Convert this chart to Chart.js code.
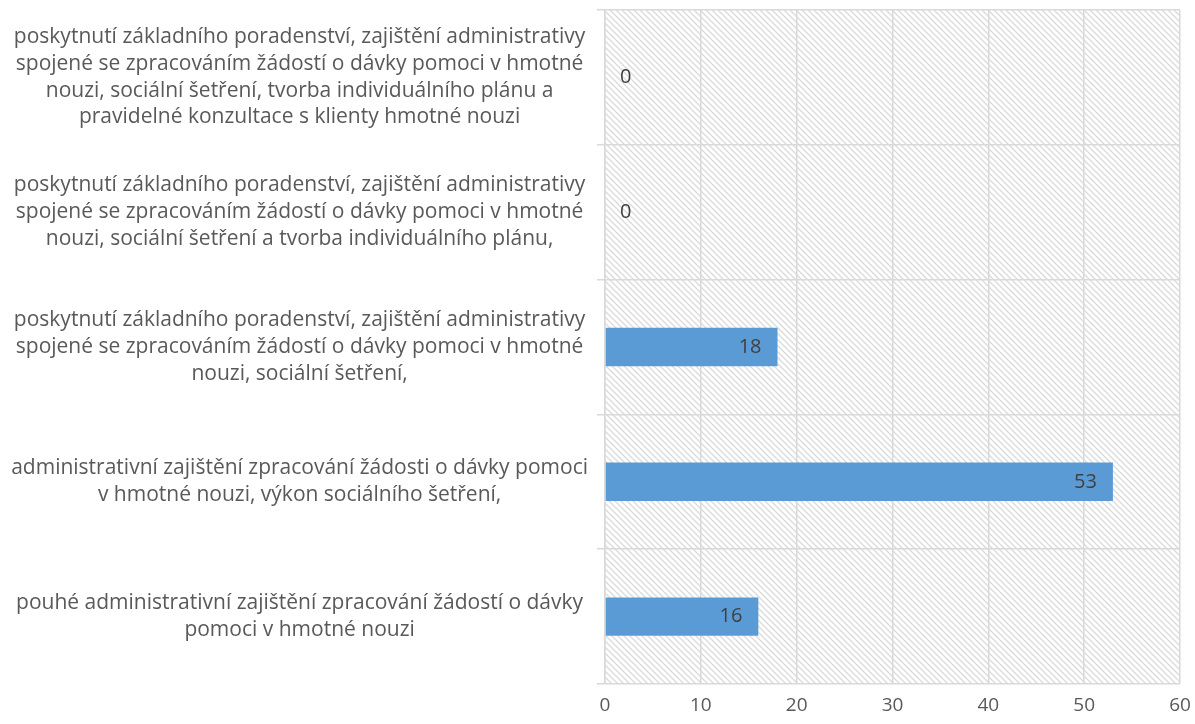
<!DOCTYPE html>
<html>
<head>
<meta charset="utf-8">
<script src="https://cdn.jsdelivr.net/npm/chart.js@4.4.1/dist/chart.umd.min.js"></script>
<style>
  html, body { margin: 0; padding: 0; background: #ffffff; }
  #wrap { width: 1195px; height: 724px; }
</style>
</head>
<body>
<div id="wrap"><canvas id="chart"></canvas></div>
<script>
// kategorie (řádky popisku tak, jak jsou zalomené v originálu)
const categories = [
    ["poskytnutí základního poradenství, zajištění administrativy",
     "spojené se zpracováním žádostí o dávky pomoci v hmotné",
     "nouzi, sociální šetření, tvorba individuálního plánu a",
     "pravidelné konzultace s klienty hmotné nouzi"],
    ["poskytnutí základního poradenství, zajištění administrativy",
     "spojené se zpracováním žádostí o dávky pomoci v hmotné",
     "nouzi, sociální šetření a tvorba individuálního plánu,"],
    ["poskytnutí základního poradenství, zajištění administrativy",
     "spojené se zpracováním žádostí o dávky pomoci v hmotné",
     "nouzi, sociální šetření,"],
    ["administrativní zajištění zpracování žádosti o dávky pomoci",
     "v hmotné nouzi, výkon sociálního šetření,"],
    ["pouhé administrativní zajištění zpracování žádostí o dávky",
     "pomoci v hmotné nouzi"],
];
const values = [0, 0, 18, 53, 16];
const xMin = 0;
const xMax = 60;
const xStep = 10;

(function () {
    const FONT = "'Open Sans'";
    const GRID = "#d9d9d9";

    // šrafované pozadí plochy grafu
    function makeHatch() {
        const s = 6;
        const c = document.createElement("canvas");
        c.width = s;
        c.height = s;
        const g = c.getContext("2d");
        g.strokeStyle = "#dadada";
        g.lineWidth = 1.3;
        g.beginPath();
        g.moveTo(-1, -1); g.lineTo(s + 1, s + 1);
        g.moveTo(-1, s - 1); g.lineTo(1, s + 1);
        g.moveTo(s - 1, -1); g.lineTo(s + 1, 1);
        g.stroke();
        return c;
    }

    const hatchPlugin = {
        id: "hatch",
        beforeDraw(chart) {
            const a = chart.chartArea;
            const ctx = chart.ctx;
            ctx.save();
            ctx.fillStyle = ctx.createPattern(makeHatch(), "repeat");
            ctx.fillRect(a.left, a.top, a.right - a.left, a.bottom - a.top);
            ctx.restore();
        },
    };

    const labelPlugin = {
        id: "barLabels",
        afterDatasetsDraw(chart) {
            const ctx = chart.ctx;
            const meta = chart.getDatasetMeta(0);
            ctx.save();
            ctx.font = "20px " + FONT;
            ctx.fillStyle = "#404040";
            ctx.textBaseline = "middle";
            meta.data.forEach(function (bar, i) {
                const v = values[i];
                if (v > 0) {
                    ctx.textAlign = "right";
                    ctx.fillText(String(v), bar.x - 16, bar.y);
                } else {
                    ctx.textAlign = "left";
                    ctx.fillText(String(v), bar.base + 15, bar.y);
                }
            });
            ctx.restore();
        },
    };

    new Chart(document.getElementById("chart").getContext("2d"), {
        type: "bar",
        data: {
            labels: categories,
            datasets: [
                {
                    data: values,
                    backgroundColor: "#5b9bd5",
                    borderWidth: 0,
                    barPercentage: 0.285,
                    categoryPercentage: 1,
                },
            ],
        },
        options: {
            indexAxis: "y",
            responsive: true,
            maintainAspectRatio: false,
            animation: false,
            layout: {
                padding: { top: 10, right: 15, bottom: 7, left: 0 },
            },
            plugins: {
                legend: { display: false },
                tooltip: { enabled: false },
            },
            scales: {
                x: {
                    min: xMin,
                    max: xMax,
                    afterFit: function (scale) {
                        scale.height = 33;
                        scale.paddingLeft = 0;
                        scale.paddingRight = 0;
                    },
                    ticks: {
                        stepSize: xStep,
                        color: "#595959",
                        font: { family: FONT, size: 19 },
                        padding: 10,
                    },
                    grid: {
                        color: GRID,
                        lineWidth: 1.5,
                        drawTicks: false,
                    },
                    border: { display: false },
                },
                y: {
                    afterFit: function (scale) {
                        scale.width = 605;
                        scale.paddingTop = 0;
                        scale.paddingBottom = 0;
                    },
                    ticks: {
                        color: "#595959",
                        crossAlign: "center",
                        padding: 9,
                        font: { family: FONT, size: 21, lineHeight: "26.7px" },
                    },
                    grid: {
                        color: GRID,
                        lineWidth: 1.5,
                        offset: true,
                        tickLength: 8,
                    },
                    border: { color: GRID, width: 1.5 },
                },
            },
        },
        plugins: [hatchPlugin, labelPlugin],
    });
})();
</script>
</body>
</html>
